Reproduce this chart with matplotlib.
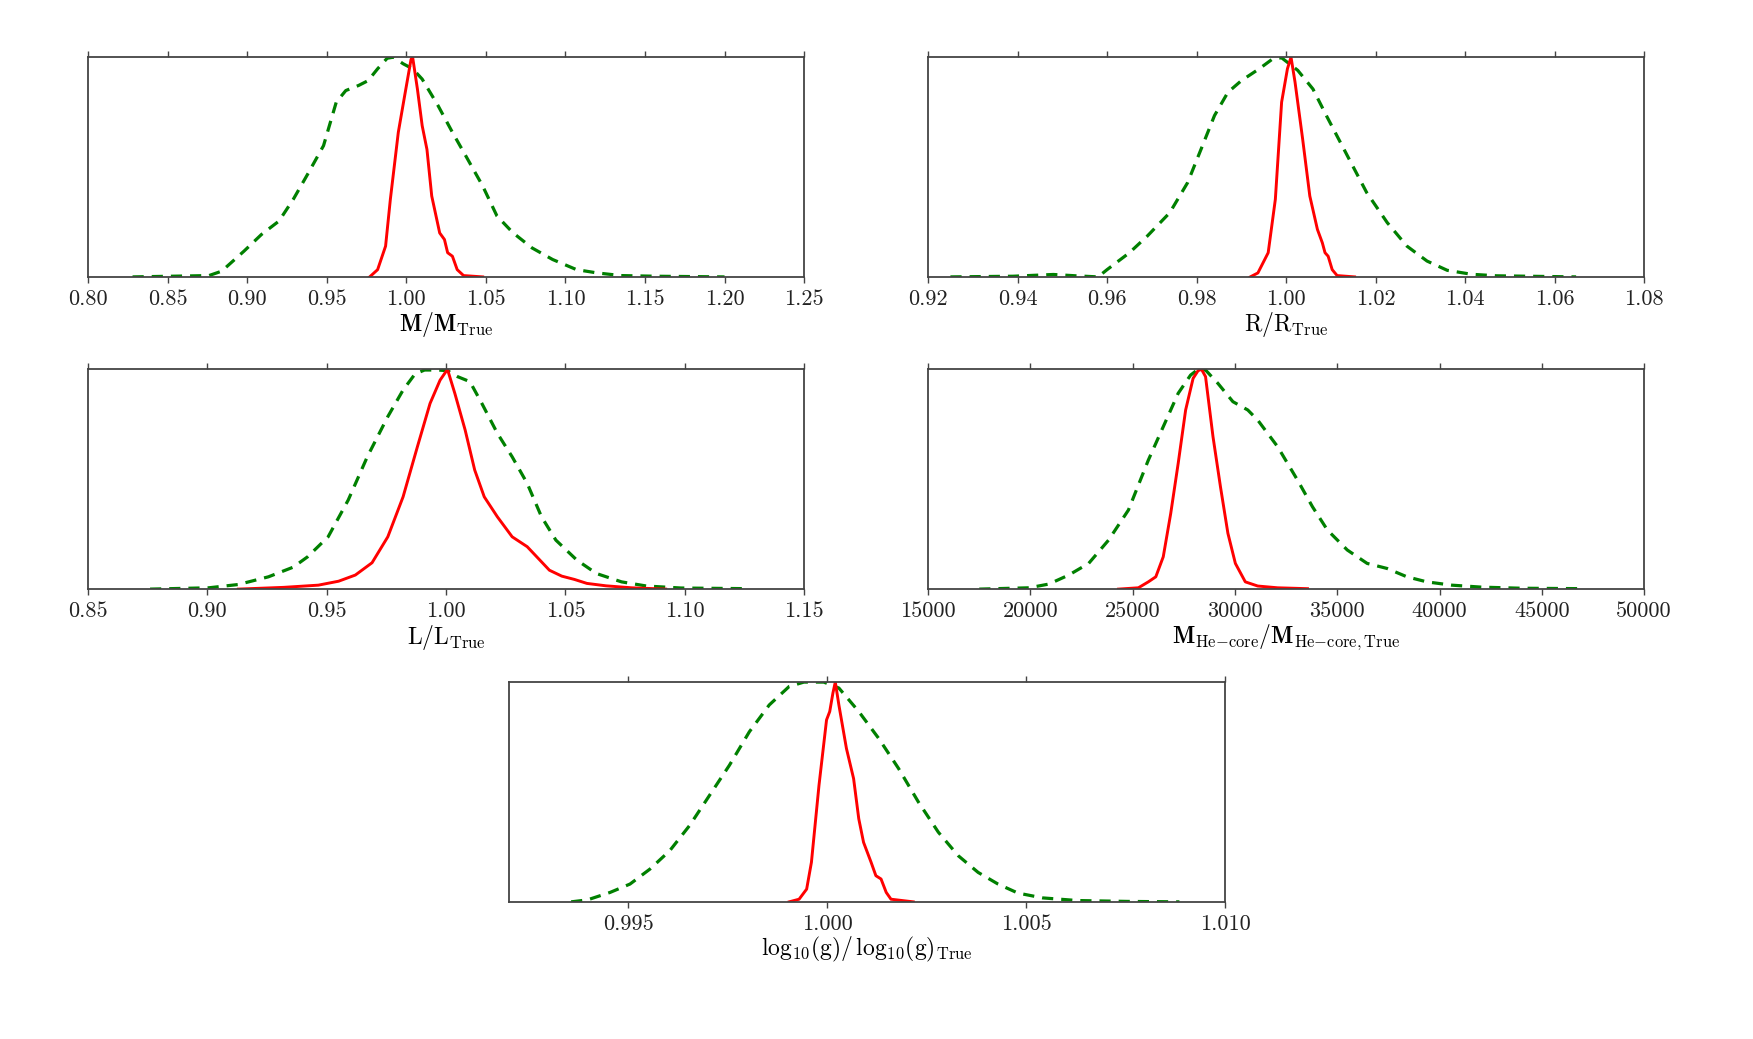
import matplotlib
matplotlib.use("Agg")
import matplotlib.pyplot as plt

plt.rcParams["font.family"] = "serif"
plt.rcParams["font.serif"] = ["cmr10"]
plt.rcParams["mathtext.fontset"] = "cm"
plt.rcParams["axes.formatter.use_mathtext"] = True

# Normalised posterior densities (peak = 1)
# M / M_True
mass_narrow_x = [0.977, 0.982, 0.987, 0.990, 0.995, 0.999, 1.003, 1.004, 1.007, 1.010,
                 1.013, 1.016, 1.021, 1.024, 1.026, 1.029, 1.032, 1.036, 1.048]
mass_narrow_y = [0.0, 0.033, 0.14, 0.353, 0.658, 0.825, 0.99, 1.0, 0.855, 0.688,
                 0.58, 0.368, 0.20, 0.17, 0.11, 0.094, 0.033, 0.006, 0.0]
mass_wide_x = [0.828, 0.876, 0.884, 0.898, 0.909, 0.920, 0.929, 0.938, 0.948, 0.956,
               0.962, 0.970, 0.976, 0.982, 0.988, 0.992, 0.998, 1.004, 1.010, 1.020,
               1.029, 1.038, 1.048, 1.057, 1.067, 1.079, 1.092, 1.107, 1.120, 1.135,
               1.157, 1.200]
mass_wide_y = [0.0, 0.006, 0.026, 0.117, 0.193, 0.254, 0.353, 0.467, 0.597, 0.795,
               0.848, 0.871, 0.893, 0.947, 0.995, 1.0, 0.970, 0.947, 0.90, 0.779,
               0.658, 0.543, 0.414, 0.277, 0.201, 0.132, 0.079, 0.033, 0.018, 0.006,
               0.003, 0.0]

# R / R_True
rad_narrow_x = [0.992, 0.9937, 0.996, 0.9976, 0.999, 1.0003, 1.0011, 1.002, 1.0037,
                1.0053, 1.007, 1.0081, 1.0087, 1.0094, 1.0103, 1.0114, 1.0153]
rad_narrow_y = [0.0, 0.018, 0.11, 0.353, 0.795, 0.947, 1.0, 0.886, 0.627,
                0.368, 0.216, 0.155, 0.11, 0.094, 0.033, 0.006, 0.0]
rad_wide_x = [0.925, 0.939, 0.948, 0.953, 0.958, 0.960, 0.965, 0.969, 0.974, 0.978,
              0.981, 0.984, 0.987, 0.990, 0.994, 0.997, 0.999, 1.0026, 1.006, 1.009,
              1.0137, 1.018, 1.0226, 1.027, 1.0315, 1.036, 1.0414, 1.047, 1.0648]
rad_wide_y = [0.0, 0.003, 0.011, 0.005, 0.0, 0.033, 0.11, 0.186, 0.292, 0.429,
              0.581, 0.734, 0.84, 0.893, 0.947, 0.992, 0.997, 0.94, 0.855, 0.734,
              0.551, 0.384, 0.247, 0.14, 0.072, 0.030, 0.012, 0.005, 0.0]

# L / L_True
lum_narrow_x = [0.913, 0.932, 0.9465, 0.955, 0.962, 0.969, 0.9756, 0.982, 0.988, 0.9933,
                0.9975, 1.0006, 1.0037, 1.008, 1.012, 1.016, 1.0215, 1.0277, 1.034, 1.038,
                1.0433, 1.0485, 1.0538, 1.059, 1.067, 1.0777, 1.092]
lum_narrow_y = [0.0, 0.008, 0.018, 0.036, 0.064, 0.12, 0.238, 0.42, 0.648, 0.845,
                0.951, 1.0, 0.89, 0.724, 0.542, 0.42, 0.329, 0.238, 0.193, 0.147,
                0.086, 0.059, 0.044, 0.026, 0.015, 0.006, 0.0]
lum_wide_x = [0.876, 0.9006, 0.913, 0.9256, 0.936, 0.942, 0.9506, 0.959, 0.967, 0.9756,
              0.982, 0.987, 0.991, 0.9965, 1.0006, 1.0048, 1.010, 1.015, 1.0215, 1.0277,
              1.034, 1.040, 1.046, 1.0548, 1.063, 1.0735, 1.084, 1.0985, 1.1267]
lum_wide_y = [0.0, 0.006, 0.021, 0.056, 0.10, 0.147, 0.238, 0.405, 0.602, 0.785,
              0.906, 0.979, 0.997, 0.997, 0.994, 0.967, 0.944, 0.845, 0.709, 0.602,
              0.481, 0.329, 0.223, 0.132, 0.071, 0.033, 0.014, 0.005, 0.002]

# M_He-core / M_He-core,True
core_narrow_x = [24309, 25281, 25767, 26132, 26496, 26861, 27226, 27590, 27955, 28198,
                 28368, 28563, 28927, 29292, 29656, 30021, 30507, 31115, 32087, 33545]
core_narrow_y = [0.0, 0.006, 0.033, 0.056, 0.147, 0.344, 0.572, 0.815, 0.959, 0.994,
                 1.0, 0.967, 0.694, 0.466, 0.254, 0.117, 0.033, 0.014, 0.006, 0.002]
core_wide_x = [17503, 19934, 20906, 21878, 22851, 23823, 24795, 25767, 26496, 27226,
               27833, 28198, 28563, 29170, 29900, 30629, 31115, 32087, 33059, 33788,
               34518, 35490, 36462, 37434, 38406, 39378, 40594, 42052, 43997, 47035]
core_wide_y = [0.0, 0.006, 0.023, 0.064, 0.117, 0.223, 0.36, 0.587, 0.739, 0.891,
               0.974, 1.0, 0.997, 0.936, 0.853, 0.815, 0.769, 0.648, 0.496, 0.375,
               0.269, 0.178, 0.117, 0.094, 0.056, 0.033, 0.018, 0.009, 0.004, 0.002]

# log10(g) / log10(g)_True
logg_narrow_x = [0.99904, 0.99929, 0.99948, 0.99960, 0.99979, 0.99998, 1.00006, 1.00014,
                 1.00020, 1.00029, 1.00048, 1.00066, 1.00079, 1.00091, 1.00110, 1.00122,
                 1.00135, 1.00148, 1.00160, 1.00216]
logg_narrow_y = [0.0, 0.012, 0.058, 0.18, 0.53, 0.828, 0.866, 0.95,
                 1.0, 0.896, 0.698, 0.561, 0.378, 0.271, 0.18, 0.119,
                 0.104, 0.043, 0.012, 0.0]
logg_wide_x = [0.99356, 0.99397, 0.99454, 0.99504, 0.99554, 0.99604, 0.99654, 0.99704,
               0.99754, 0.99804, 0.99854, 0.99904, 0.99941, 0.99991, 1.00029, 1.00079,
               1.00129, 1.00179, 1.00229, 1.00279, 1.00329, 1.00379, 1.00429, 1.00479,
               1.00541, 1.00629, 1.00754, 1.00885]
logg_wide_y = [0.0, 0.009, 0.043, 0.081, 0.149, 0.233, 0.348, 0.485,
               0.622, 0.774, 0.896, 0.98, 1.0, 1.0, 0.973, 0.866,
               0.744, 0.607, 0.454, 0.317, 0.21, 0.134, 0.081, 0.040,
               0.018, 0.006, 0.002, 0.0]

panels = [
    (mass_wide_x, mass_wide_y, mass_narrow_x, mass_narrow_y, (0.80, 1.25),
     [0.80, 0.85, 0.90, 0.95, 1.00, 1.05, 1.10, 1.15, 1.20, 1.25], "%.2f",
     r"$\mathbf{M/M}_{\mathrm{True}}$"),
    (rad_wide_x, rad_wide_y, rad_narrow_x, rad_narrow_y, (0.92, 1.08),
     [0.92, 0.94, 0.96, 0.98, 1.00, 1.02, 1.04, 1.06, 1.08], "%.2f",
     r"$\mathrm{R/R}_{\mathrm{True}}$"),
    (lum_wide_x, lum_wide_y, lum_narrow_x, lum_narrow_y, (0.85, 1.15),
     [0.85, 0.90, 0.95, 1.00, 1.05, 1.10, 1.15], "%.2f",
     r"$\mathrm{L/L}_{\mathrm{True}}$"),
    (core_wide_x, core_wide_y, core_narrow_x, core_narrow_y, (15000, 50000),
     [15000, 20000, 25000, 30000, 35000, 40000, 45000, 50000], "%d",
     r"$\mathbf{M}_{\mathrm{He{-}core}}\mathbf{/M}_{\mathrm{He{-}core,True}}$"),
    (logg_wide_x, logg_wide_y, logg_narrow_x, logg_narrow_y, (0.992, 1.010),
     [0.995, 1.000, 1.005, 1.010], "%.3f",
     r"$\mathrm{log_{10}(g)/\,log_{10}(g)_{True}}$"),
]

fig = plt.figure(figsize=(17.53, 10.39), dpi=100)
w, h = 0.4085, 0.2115
rects = [
    (0.0502, 0.7335, w, h),
    (0.5294, 0.7335, w, h),
    (0.0502, 0.4330, w, h),
    (0.5294, 0.4330, w, h),
    (0.2904, 0.1320, w, h),
]

for rect, (wx, wy, nx, ny, xlim, ticks, fmt, label) in zip(rects, panels):
    ax = fig.add_axes(rect)
    ax.plot(wx, wy, color="green", linestyle="--", linewidth=2.3, dashes=(3.5, 2.5))
    ax.plot(nx, ny, color="red", linewidth=2.1)
    ax.set_xlim(*xlim)
    ax.set_ylim(0, 1)
    ax.set_xticks(ticks)
    ax.set_xticklabels([fmt % t for t in ticks])
    ax.set_yticks([])
    ax.tick_params(axis="x", direction="out", top=True, length=4, width=1,
                   color="#444444", labelsize=16, labelcolor="#222222", pad=5)
    for s in ax.spines.values():
        s.set_color("#444444")
        s.set_linewidth(1.3)
    ax.set_xlabel(label, fontsize=17, labelpad=1)

fig.savefig("out.png", dpi=100)
